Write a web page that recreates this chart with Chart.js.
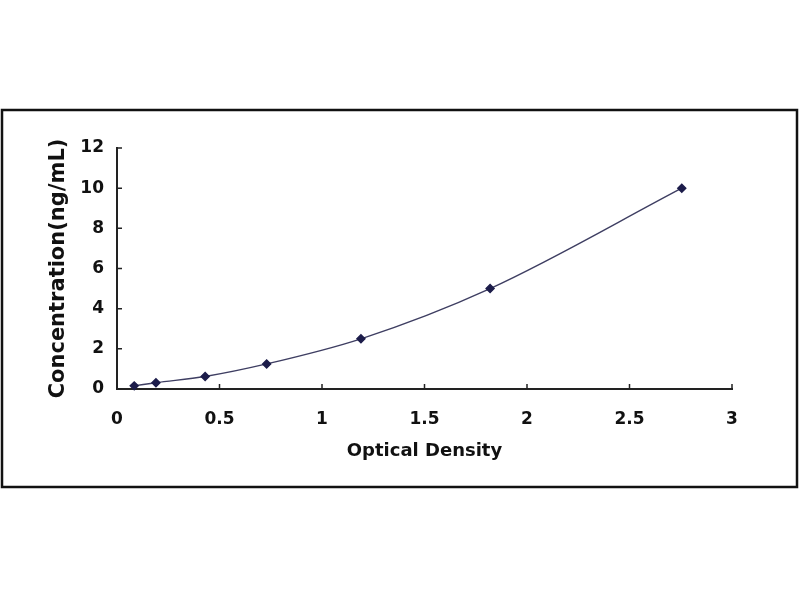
<!DOCTYPE html>
<html>
<head>
<meta charset="utf-8">
<script src="https://cdn.jsdelivr.net/npm/chart.js@4"></script>
<style>
  html, body { margin: 0; padding: 0; background: #fff; }
  #wrap { width: 800px; height: 600px; }
</style>
</head>
<body>
<div id="wrap"><canvas id="myChart" width="800" height="600"></canvas></div>
<script>
// standard curve readings
var opticalDensity = [0.084, 0.19, 0.43, 0.73, 1.19, 1.82, 2.755];
var concentration = [0.156, 0.312, 0.625, 1.25, 2.5, 5, 10];

var xTickValues = [0, 0.5, 1, 1.5, 2, 2.5, 3];
var yTickValues = [0, 2, 4, 6, 8, 10, 12];

var points = opticalDensity.map(function (od, i) {
    return { x: od, y: concentration[i] };
});

var textFont = 'DejaVu Sans';

// outer frame + white background
var framePlugin = {
    id: 'frame',
    beforeDraw: function (chart) {
        var c = chart.ctx;
        c.save();
        c.fillStyle = '#fff';
        c.fillRect(0, 0, chart.width, chart.height);
        c.strokeStyle = '#111';
        c.lineWidth = 2.5;
        c.strokeRect(2, 110, 795, 377);
        c.restore();
    }
};

// small tick marks pointing into the plot
var innerTicks = {
    id: 'innerTicks',
    afterDatasetsDraw: function (chart) {
        var c = chart.ctx;
        var xs = chart.scales.x, ys = chart.scales.y;
        var area = chart.chartArea;
        c.save();
        c.strokeStyle = '#222';
        c.lineWidth = 1.5;
        c.beginPath();
        xs.ticks.forEach(function (t) {
            var px = xs.getPixelForValue(t.value);
            c.moveTo(px, area.bottom);
            c.lineTo(px, area.bottom - 5);
        });
        ys.ticks.forEach(function (t) {
            var py = ys.getPixelForValue(t.value);
            c.moveTo(area.left, py);
            c.lineTo(area.left + 5, py);
        });
        c.stroke();
        c.restore();
    }
};

var ctx = document.getElementById('myChart').getContext('2d');
var myChart = new Chart(ctx, {
    type: 'scatter',
    data: {
        datasets: [{
            data: points,
            showLine: true,
            cubicInterpolationMode: 'monotone',
            borderColor: '#3e3e62',
            borderWidth: 1.4,
            pointStyle: 'rectRot',
            pointRadius: 4,
            pointBackgroundColor: '#1c1c4a',
            pointBorderColor: '#1c1c4a',
            clip: false
        }]
    },
    options: {
        responsive: false,
        animation: false,
        layout: {
            padding: { left: 46, right: 68, top: 148, bottom: 138 }
        },
        plugins: {
            legend: { display: false },
            tooltip: { enabled: false }
        },
        scales: {
            x: {
                type: 'linear',
                min: 0,
                max: 3,
                afterBuildTicks: function (scale) {
                    scale.ticks = xTickValues.map(function (v) { return { value: v }; });
                },
                afterFit: function (scale) { scale.height = 73; },
                grid: { display: false, drawTicks: false },
                border: { display: true, color: '#222', width: 2 },
                ticks: {
                    padding: 20,
                    color: '#111',
                    font: { family: textFont, size: 17, weight: 'bold' },
                    callback: function (v) { return String(v); }
                },
                title: {
                    display: true,
                    text: 'Optical Density',
                    color: '#111',
                    padding: 0,
                    font: { family: textFont, size: 18, weight: 'bold' }
                }
            },
            y: {
                type: 'linear',
                min: 0,
                max: 12,
                afterBuildTicks: function (scale) {
                    scale.ticks = yTickValues.map(function (v) { return { value: v }; });
                },
                afterFit: function (scale) { scale.width = 71; },
                grid: { display: false, drawTicks: false },
                border: { display: true, color: '#222', width: 2 },
                ticks: {
                    padding: 13,
                    color: '#111',
                    font: { family: textFont, size: 17, weight: 'bold' },
                    callback: function (v) { return String(v); }
                },
                title: {
                    display: true,
                    text: 'Concentration(ng/mL)',
                    color: '#111',
                    padding: 0,
                    font: { family: textFont, size: 21, weight: 'bold' }
                }
            }
        }
    },
    plugins: [framePlugin, innerTicks]
});
</script>
</body>
</html>
